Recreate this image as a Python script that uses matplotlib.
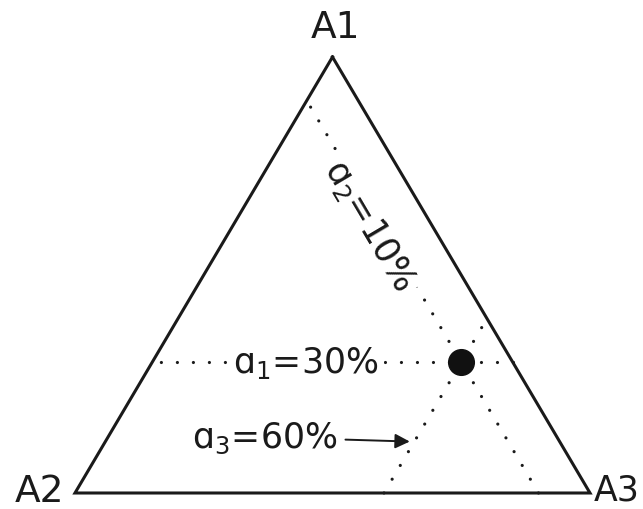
import numpy as np
import matplotlib
matplotlib.use("Agg")
import matplotlib.pyplot as plt

# composition of the point, in percent of A1, A2, A3
vertex_labels = ["A1", "A2", "A3"]
component_names = ["ɑ", "ɑ", "ɑ"]
fractions = [30, 10, 60]

FONT = "DejaVu Sans"
plt.rcParams["font.family"] = FONT
plt.rcParams["mathtext.fontset"] = "dejavusans"


def to_xy(a1, a2, a3):
    # barycentric -> cartesian: A2 at (0,0), A3 at (1,0), A1 at (0.5,1)
    s = a1 + a2 + a3
    a1, a2, a3 = a1 / s, a2 / s, a3 / s
    return 0.5 * a1 + a3, a1


def iso_line(i, v):
    # line where component i is fixed at v, running between the two sides
    ends = []
    for k in range(3):
        if k == i:
            continue
        c = [0.0, 0.0, 0.0]
        c[i] = v
        for j in range(3):
            if j != i and j != k:
                c[j] = 1.0 - v
        ends.append(to_xy(*c))
    return np.array(ends)


def label(i):
    return r"$\mathrm{%s}_{%d}$=%d%%" % (component_names[i], i + 1, fractions[i])


fig = plt.figure(figsize=(6.43, 5.10), dpi=100)
ax = fig.add_axes([0, 0, 1, 1])
ax.set_xlim(-0.1456, 1.1029)
ax.set_ylim(-0.0367, 1.1330)
ax.axis("off")

# triangle
corners = np.array([to_xy(1, 0, 0), to_xy(0, 1, 0), to_xy(0, 0, 1), to_xy(1, 0, 0)])
ax.plot(corners[:, 0], corners[:, 1], color="#1a1a1a", lw=2.2,
        solid_joinstyle="miter", zorder=2)

# dotted iso-lines through the point
fr = [f / 100 for f in fractions]
for i in range(3):
    seg = iso_line(i, fr[i])
    ax.plot(seg[:, 0], seg[:, 1], color="#1a1a1a", lw=2.3,
            linestyle=(0, (0.01, 5.0)), dash_capstyle="round", zorder=1)

px, py = to_xy(*fr)
ax.plot([px], [py], "o", color="#111111", ms=18.5, zorder=4)

# vertex labels
tkw = dict(fontsize=27, color="#1a1a1a")
ax.text(0.505, 1.068, vertex_labels[0], ha="center", va="center", **tkw)
ax.text(-0.02, 0.004, vertex_labels[1], ha="right", va="center", **tkw)
ax.text(1.097, 0.008, vertex_labels[2], ha="right", va="center",
        fontsize=25, color="#1a1a1a")

lkw = dict(fontsize=25, color="#1a1a1a")
box = dict(boxstyle="square,pad=0.15", fc="white", ec="none")

# a1 label sits on the horizontal line
ax.text(0.448, fr[0], label(0), ha="center", va="center", bbox=box,
        zorder=3, **lkw)

# a2 label rotated along its line, reading downwards
seg = iso_line(1, fr[1])
p0, p1 = ax.transData.transform(seg[0]), ax.transData.transform(seg[1])
ang = np.degrees(np.arctan2(p1[1] - p0[1], p1[0] - p0[0]))
if ang > 90:
    ang -= 180
elif ang < -90:
    ang += 180
ax.text(0.572, 0.615, label(1), ha="center", va="center", rotation=ang,
        rotation_mode="anchor", bbox=box, zorder=3, **lkw)

# a3 label with an arrow pointing to its line
ax.annotate(label(2), xy=(0.650, 0.118), xytext=(0.509, 0.128),
            ha="right", va="center", zorder=3, **lkw,
            arrowprops=dict(arrowstyle="-|>", color="#1a1a1a", lw=1.4,
                            mutation_scale=22, shrinkA=4, shrinkB=0))

fig.savefig("out.png", dpi=100)
